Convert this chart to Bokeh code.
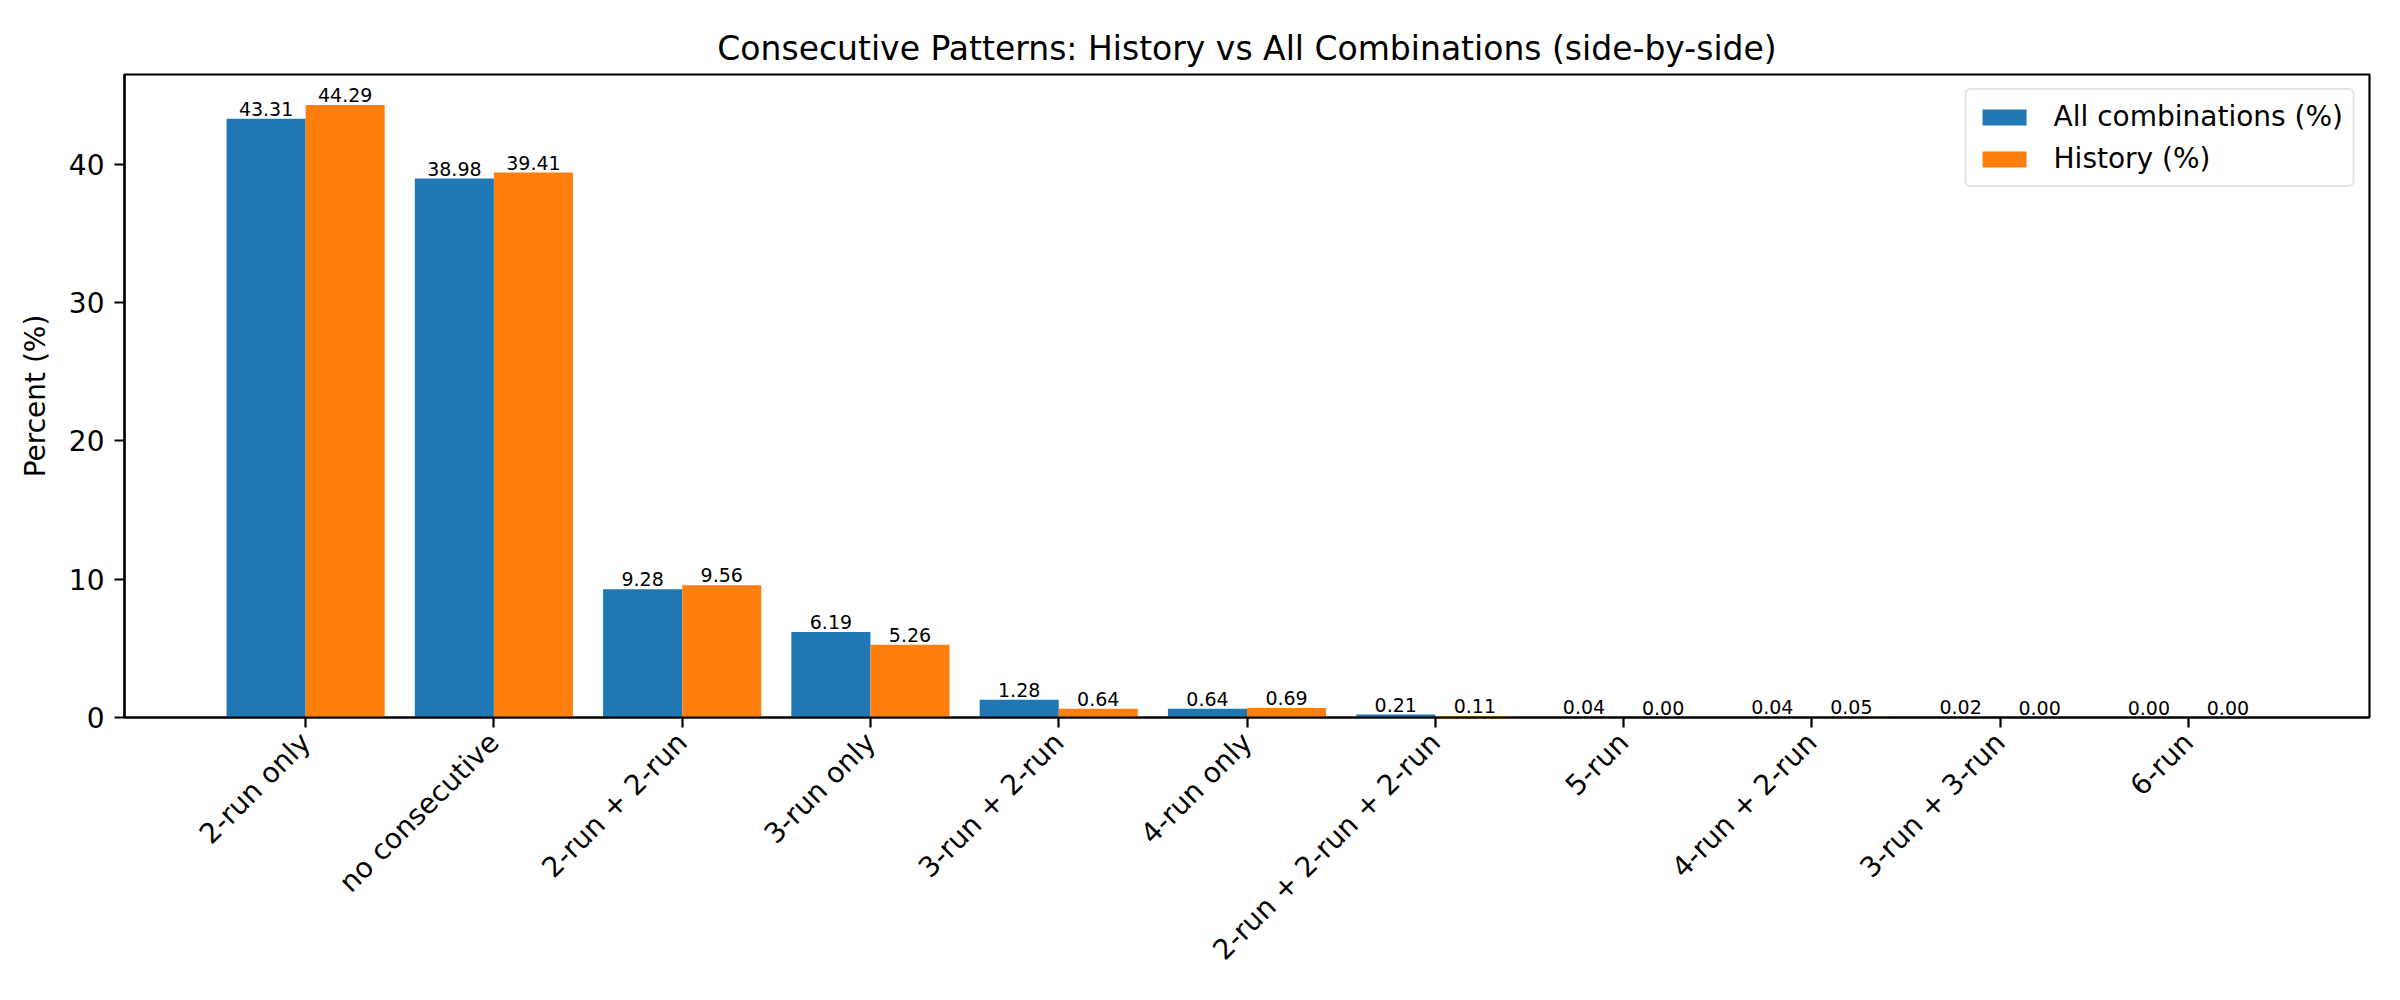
import math
from bokeh.plotting import figure
from bokeh.models import ColumnDataSource, Range1d, FixedTicker
from bokeh.transform import dodge
from bokeh.core.properties import value
from bokeh.embed import file_html
from bokeh.resources import INLINE

categories = ["2-run only", "no consecutive", "2-run + 2-run", "3-run only",
              "3-run + 2-run", "4-run only", "2-run + 2-run + 2-run", "5-run",
              "4-run + 2-run", "3-run + 3-run", "6-run"]
all_pct = [43.31, 38.98, 9.28, 6.19, 1.28, 0.64, 0.21, 0.04, 0.04, 0.02, 0.00]
hist_pct = [44.29, 39.41, 9.56, 5.26, 0.64, 0.69, 0.11, 0.00, 0.05, 0.00, 0.00]
y_ticks = [0, 10, 20, 30, 40]

FONT = "DejaVu Sans"
BLUE = "#1f77b4"
ORANGE = "#ff7f0e"
W = 0.42

idx = list(range(len(categories)))
src = ColumnDataSource(dict(
    x=idx, all=all_pct, hist=hist_pct,
    all_lbl=[f"{v:.2f}" for v in all_pct],
    hist_lbl=[f"{v:.2f}" for v in hist_pct],
))

n = len(categories)
pad_x = 0.05 * ((n - 1 + W) - (-W))
ymax = max(max(all_pct), max(hist_pct)) * 1.05

p = figure(width=2384, height=984, output_backend="svg", toolbar_location=None,
           x_range=Range1d(-W - pad_x, n - 1 + W + pad_x), y_range=Range1d(0, ymax),
           min_border_left=124, min_border_right=15, min_border_top=74, min_border_bottom=267,
           title="Consecutive Patterns: History vs All Combinations (side-by-side)")

p.vbar(x=dodge("x", -W / 2), top="all", width=W, bottom=0, source=src,
       fill_color=BLUE, line_color=None, legend_label="All combinations (%)")
p.vbar(x=dodge("x", W / 2), top="hist", width=W, bottom=0, source=src,
       fill_color=ORANGE, line_color=None, legend_label="History (%)")

p.text(x=dodge("x", -W / 2), y="all", text="all_lbl", source=src,
       text_align="center", text_baseline="alphabetic", y_offset=-10,
       text_font=value(FONT), text_font_size="19px", text_color="black")
p.text(x=dodge("x", W / 2), y="hist", text="hist_lbl", source=src,
       text_align="center", text_baseline="alphabetic", y_offset=-10,
       text_font=value(FONT), text_font_size="19px", text_color="black")

p.title.text_font = FONT
p.title.text_font_size = "33px"
p.title.text_font_style = "normal"
p.title.text_color = "black"
p.title.align = "center"
p.title.standoff = 14

p.xgrid.visible = False
p.ygrid.visible = False
p.outline_line_color = "black"
p.outline_line_width = 2.2
p.background_fill_color = "white"
p.border_fill_color = "white"

for ax in (p.xaxis, p.yaxis):
    ax.axis_line_color = "black"
    ax.axis_line_width = 2.2
    ax.major_tick_line_color = "black"
    ax.major_tick_line_width = 2.2
    ax.major_tick_out = 10
    ax.major_tick_in = 0
    ax.minor_tick_line_color = None
    ax.major_label_text_font = FONT
    ax.major_label_text_font_size = "28px"
    ax.major_label_text_color = "black"
    ax.major_label_standoff = 10

p.xaxis.ticker = FixedTicker(ticks=idx)
p.xaxis.major_label_overrides = {i: c for i, c in enumerate(categories)}
p.xaxis.major_label_orientation = math.pi / 4

p.yaxis.ticker = FixedTicker(ticks=y_ticks)
p.yaxis.axis_label = "Percent (%)"
p.yaxis.axis_label_text_font = FONT
p.yaxis.axis_label_text_font_size = "28px"
p.yaxis.axis_label_text_font_style = "normal"
p.yaxis.axis_label_text_color = "black"
p.yaxis.axis_label_standoff = 14

lg = p.legend[0]
lg.location = "top_right"
lg.margin = 14
lg.padding = 10
lg.spacing = 9
lg.label_standoff = 22
lg.glyph_width = 55
lg.glyph_height = 20
lg.label_text_font = FONT
lg.label_text_font_size = "28px"
lg.label_text_color = "black"
lg.border_line_color = "#cccccc"
lg.border_line_width = 2.2
lg.background_fill_alpha = 0.8
if "border_radius" in lg.properties():
    lg.border_radius = 6

open("out.html", "w").write(file_html(p, INLINE))
